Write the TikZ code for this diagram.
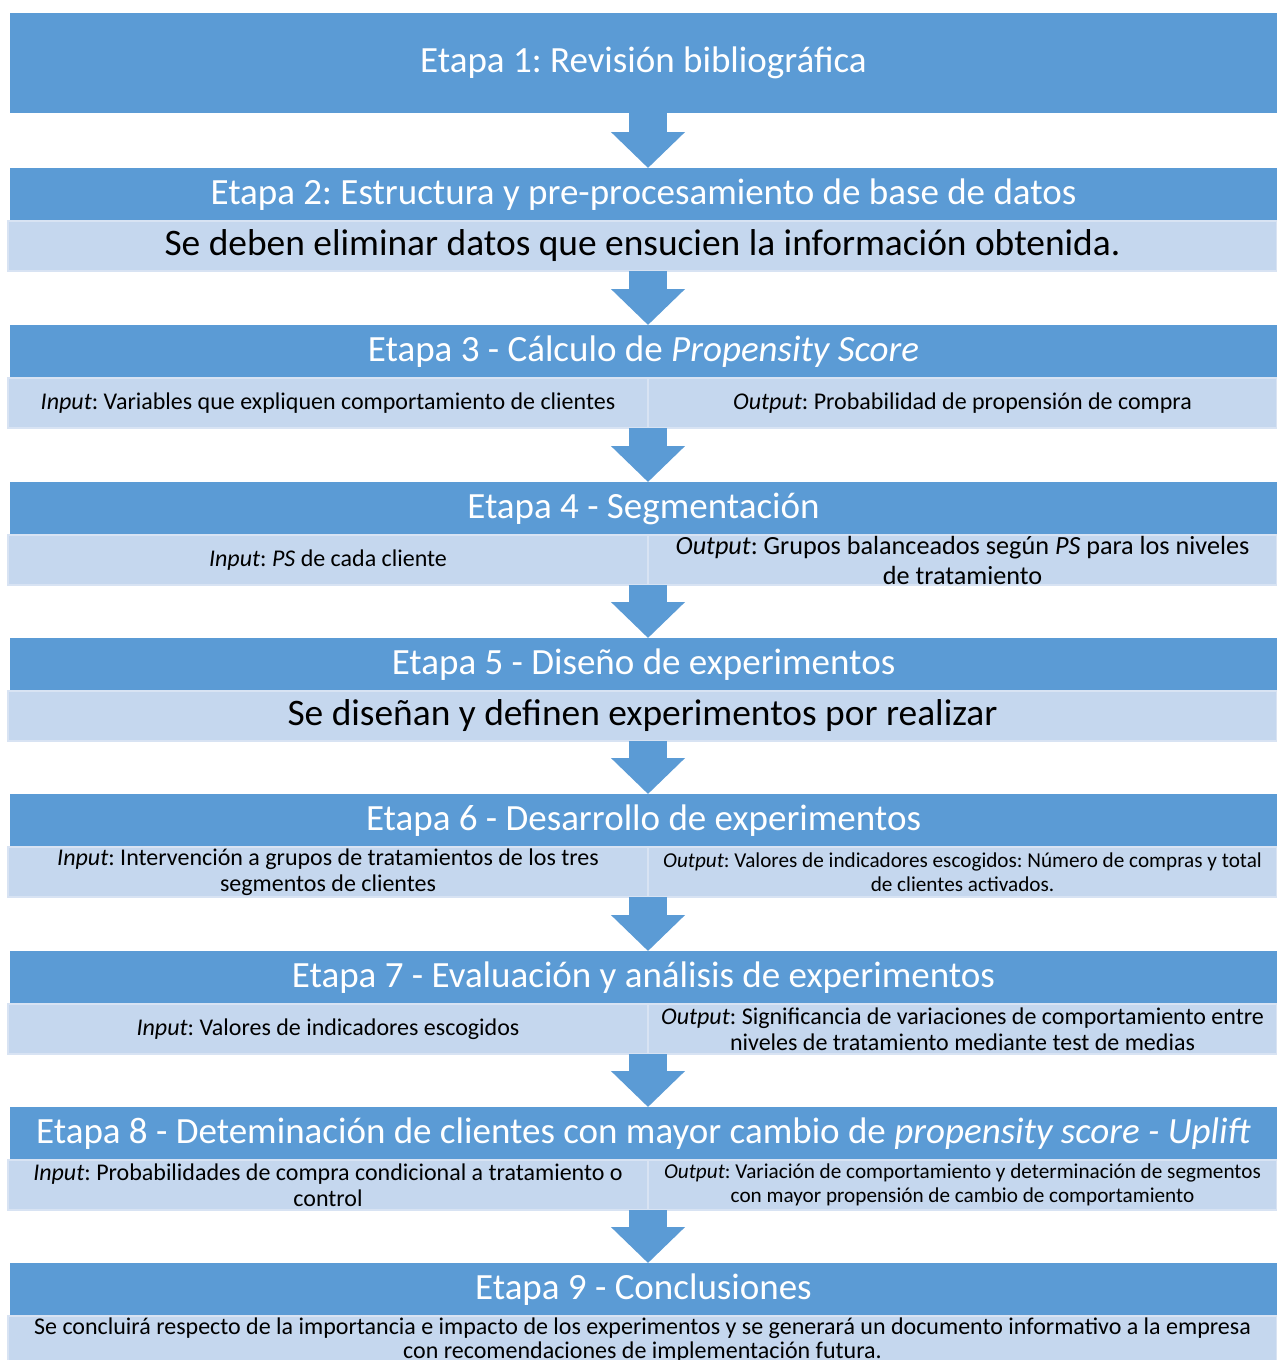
\documentclass[tikz,border=0pt]{standalone}
\usepackage{fontspec}
\setmainfont{Carlito}
\frenchspacing
\usetikzlibrary{positioning,arrows.meta}
\definecolor{etapablue}{HTML}{5B9BD5}
\definecolor{etapalight}{HTML}{C5D7EE}
\definecolor{etapaedge}{HTML}{D8E3F3}

\begin{document}
\begin{tikzpicture}[
  x=0.5pt, y=-0.5pt,
  stage/.style={fill=etapablue, text=white, anchor=north west, inner sep=0pt, outer sep=0pt,
                minimum width=633.5pt, minimum height=26.5pt, font=\fontsize{18.5}{22}\selectfont},
  detail/.style={fill=etapalight, draw=etapaedge, line width=0.8pt, align=center, inner sep=0pt,
                 outer sep=0pt, anchor=north west, minimum width=634.5pt, minimum height=25pt,
                 font=\fontsize{18.7}{22}\selectfont},
  inhalf/.style={detail, minimum width=320pt, font=\fontsize{12}{13}\selectfont},
  outhalf/.style={detail, anchor=west, minimum width=314.5pt, font=\fontsize{12}{13}\selectfont},
  flow/.style={-{Triangle[length=18pt,width=36pt]}, line width=19pt, etapablue},
]
  \useasboundingbox (0,0) rectangle (1277,1360);
  \coordinate (axis) at (648,0);

  \node[stage, minimum height=50pt] (s1) at (10,13) {Etapa 1: Revisión bibliográfica};

  \node[stage] (s2) at (10,168) {Etapa 2: Estructura y pre-procesamiento de base de datos};
  \node[detail, xshift=-1pt] (l2) at (s2.south west)
    {Se deben eliminar datos que ensucien la información obtenida.};

  \node[stage] (s3) at (10,325) {Etapa 3 - Cálculo de \textit{Propensity Score}};
  \node[inhalf, xshift=-1pt] (in3) at (s3.south west)
    {\textit{Input}: Variables que expliquen comportamiento de clientes};
  \node[outhalf, right=0pt of in3] (out3)
    {\textit{Output}: Probabilidad de propensión de compra};

  \node[stage] (s4) at (10,482) {Etapa 4 - Segmentación};
  \node[inhalf, xshift=-1pt] (in4) at (s4.south west)
    {\textit{Input}: \textit{PS} de cada cliente};
  \node[outhalf, right=0pt of in4, font=\fontsize{13.1}{15}\selectfont] (out4)
    {\textit{Output}: Grupos balanceados según \textit{PS} para los niveles\\ de tratamiento};

  \node[stage] (s5) at (10,638) {Etapa 5 - Diseño de experimentos};
  \node[detail, xshift=-1pt] (l5) at (s5.south west)
    {Se diseñan y definen experimentos por realizar};

  \node[stage] (s6) at (10,794) {Etapa 6 - Desarrollo de experimentos};
  \node[inhalf, xshift=-1pt] (in6) at (s6.south west)
    {\textit{Input}: Intervención a grupos de tratamientos de los tres\\ segmentos de clientes};
  \node[outhalf, right=0pt of in6, font=\fontsize{10.6}{12}\selectfont] (out6)
    {\textit{Output}: Valores de indicadores escogidos: Número de compras y total\\ de clientes activados.};

  \node[stage] (s7) at (10,951) {Etapa 7 - Evaluación y análisis de experimentos};
  \node[inhalf, xshift=-1pt] (in7) at (s7.south west)
    {\textit{Input}: Valores de indicadores escogidos};
  \node[outhalf, right=0pt of in7] (out7)
    {\textit{Output}: Significancia de variaciones de comportamiento entre\\ niveles de tratamiento mediante test de medias};

  \node[stage] (s8) at (10,1107)
    {Etapa 8 - Deteminación de clientes con mayor cambio de \textit{propensity score - Uplift}};
  \node[inhalf, xshift=-1pt] (in8) at (s8.south west)
    {\textit{Input}: Probabilidades de compra condicional a tratamiento o\\ control};
  \node[outhalf, right=0pt of in8, font=\fontsize{10.6}{12}\selectfont] (out8)
    {\textit{Output}: Variación de comportamiento y determinación de segmentos\\ con mayor propensión de cambio de comportamiento};

  \node[stage] (s9) at (10,1263) {Etapa 9 - Conclusiones};
  \node[detail, xshift=-1pt, minimum height=24pt, font=\fontsize{12}{12}\selectfont] (l9) at (s9.south west)
    {Se concluirá respecto de la importancia e impacto de los experimentos y se generará un documento informativo a la empresa\\ con recomendaciones de implementación futura.};

  \draw[flow] (s1.south -| axis) -- (s2.north -| axis);
  \draw[flow] (l2.south -| axis) -- (s3.north -| axis);
  \draw[flow] (in3.south east) -- (s4.north -| axis);
  \draw[flow] (in4.south east) -- (s5.north -| axis);
  \draw[flow] (l5.south -| axis) -- (s6.north -| axis);
  \draw[flow] (in6.south east) -- (s7.north -| axis);
  \draw[flow] (in7.south east) -- (s8.north -| axis);
  \draw[flow] (in8.south east) -- (s9.north -| axis);
\end{tikzpicture}
\end{document}
